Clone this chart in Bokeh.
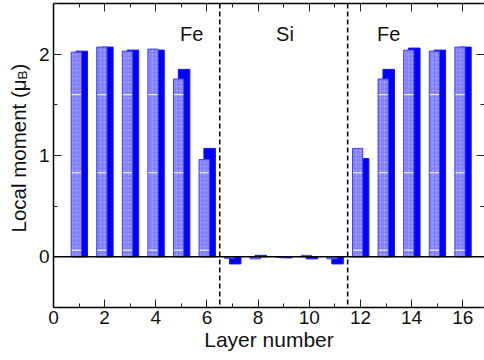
from math import pi
from bokeh.plotting import figure
from bokeh.layouts import row
from bokeh.models import Range1d, SingleIntervalTicker, LinearAxis, Span, ColumnDataSource
from bokeh.core.properties import value
from bokeh.embed import file_html
from bokeh.resources import INLINE

# ---- data ----
layers = list(range(1, 17))
moment_light = [2.02, 2.07, 2.03, 2.05, 1.755, 0.96, -0.015, -0.02, -0.005, 0.015, -0.02,
                1.07, 1.755, 2.04, 2.03, 2.07]
moment_solid = [2.03, 2.07, 2.04, 2.04, 1.85, 1.07, -0.07, 0.015, -0.01, -0.02, -0.07,
                0.97, 1.85, 2.06, 2.04, 2.07]
boundaries = [6.5, 11.5]
region_names = ["Fe", "Si", "Fe"]
region_x = [5.4, 9.05, 13.1]
region_y = [2.2, 2.2, 2.2]
x_ticks_interval = 2
y_ticks_interval = 1

FONT = "Liberation Sans"
TXT = "#111111"
LABEL_W = 34
Y0, Y1 = -0.5, 2.5

p = figure(width=484 - LABEL_W, height=360, output_backend="svg", toolbar_location=None,
           x_range=Range1d(0, 16.85), y_range=Range1d(Y0, Y1),
           min_border_left=53 - LABEL_W, min_border_right=0, min_border_top=3,
           min_border_bottom=53, x_axis_location=None, y_axis_location=None)
p.outline_line_color = None
p.grid.visible = False
p.background_fill_color = "white"
p.border_fill_color = "white"

def style_axis(ax, labels=True):
    ax.axis_line_color = "black"
    ax.axis_line_width = 1.5
    ax.major_tick_in = 8
    ax.major_tick_out = 0
    ax.minor_tick_in = 4
    ax.minor_tick_out = 0
    ax.major_tick_line_color = "#222222"
    ax.minor_tick_line_color = "#222222"
    ax.major_tick_line_width = 1
    ax.minor_tick_line_width = 1
    ax.major_label_text_font = FONT
    ax.major_label_text_color = TXT
    if labels:
        ax.major_label_text_font_size = "19px"
    else:
        ax.major_label_text_font_size = "1px"
        ax.major_label_text_color = None
        ax.major_label_standoff = 0

xb = LinearAxis(ticker=SingleIntervalTicker(interval=x_ticks_interval, num_minor_ticks=2))
style_axis(xb)
xb.major_label_standoff = 3
xb.axis_label = "Layer number"
xb.axis_label_text_font = FONT
xb.axis_label_text_font_size = "21px"
xb.axis_label_text_font_style = "normal"
xb.axis_label_text_color = TXT
xb.axis_label_standoff = 1
p.add_layout(xb, "below")

xt = LinearAxis(ticker=SingleIntervalTicker(interval=x_ticks_interval, num_minor_ticks=2))
style_axis(xt, labels=False)
p.add_layout(xt, "above")

yl = LinearAxis(ticker=SingleIntervalTicker(interval=y_ticks_interval, num_minor_ticks=2))
style_axis(yl)
yl.major_label_standoff = 4
p.add_layout(yl, "left")

yr = LinearAxis(ticker=SingleIntervalTicker(interval=y_ticks_interval, num_minor_ticks=2))
style_axis(yr, labels=False)
yr.axis_line_color = None
p.add_layout(yr, "right")

# ---- bars ----
src = ColumnDataSource(dict(
    layer=layers, light=moment_light, solid=moment_solid,
    x_light=[l - 0.11 for l in layers], x_solid=[l + 0.105 for l in layers]))

p.vbar(x="x_solid", width=0.45, top="solid", bottom=0, source=src,
       fill_color="#0000ff", line_color="#1515ff", line_width=1)
p.vbar(x="x_light", width=0.40, top="light", bottom=0, source=src,
       fill_color="#8282ff", line_color="#4040ff", line_width=1,
       hatch_pattern=".", hatch_color="#a6a6fa", hatch_scale=4, hatch_weight=1)

# texture stripes on the light bars
tex_levels = [0.066, 0.83, 1.6]
sx0, sx1, sy = [], [], []
for l, v in zip(layers, moment_light):
    for lev in tex_levels:
        if v > lev + 0.02:
            sx0.append(l - 0.29); sx1.append(l + 0.07); sy.append(lev)
p.segment(x0=sx0, x1=sx1, y0=sy, y1=sy, line_color="white", line_width=1)

# zero line and region boundaries
p.add_layout(Span(location=0, dimension="width", line_color="black", line_width=1.5))
for b in boundaries:
    p.add_layout(Span(location=b, dimension="height", line_color="black",
                      line_width=1.5, line_dash="5 3"))

p.text(x=region_x, y=region_y, text=region_names, text_font=value(FONT),
       text_font_size="20px", text_align="center", text_baseline="alphabetic",
       text_color=TXT)

# ---- y-axis title panel (x in pixels, y shares the main plot's value scale) ----
lf = figure(width=LABEL_W, height=360, output_backend="svg", toolbar_location=None,
            x_range=Range1d(0, LABEL_W), y_range=Range1d(Y0, Y1),
            min_border=0, x_axis_location=None, y_axis_location=None)
lf.outline_line_color = None
lf.grid.visible = False
lf.min_border_top = 3
lf.min_border_bottom = 53
lf.min_border_left = 0
lf.min_border_right = 0
base_x = 17.7
px_per_unit = 101.4
ys = 0.24
lf.text(x=[base_x], y=[ys], text=["Local moment (\u03bc"], angle=pi/2,
        text_font=value(FONT), text_font_size="20.5px", text_color=TXT,
        text_align="left", text_baseline="alphabetic")
lf.text(x=[base_x + 4], y=[ys + 153 / px_per_unit], text=["B"], angle=pi/2,
        text_font=value(FONT), text_font_size="13.5px", text_color=TXT,
        text_align="left", text_baseline="alphabetic")
lf.text(x=[base_x], y=[ys + 162 / px_per_unit], text=[")"], angle=pi/2,
        text_font=value(FONT), text_font_size="20.5px", text_color=TXT,
        text_align="left", text_baseline="alphabetic")

layout = row(lf, p, spacing=0)
open("out.html", "w").write(file_html(layout, INLINE))
